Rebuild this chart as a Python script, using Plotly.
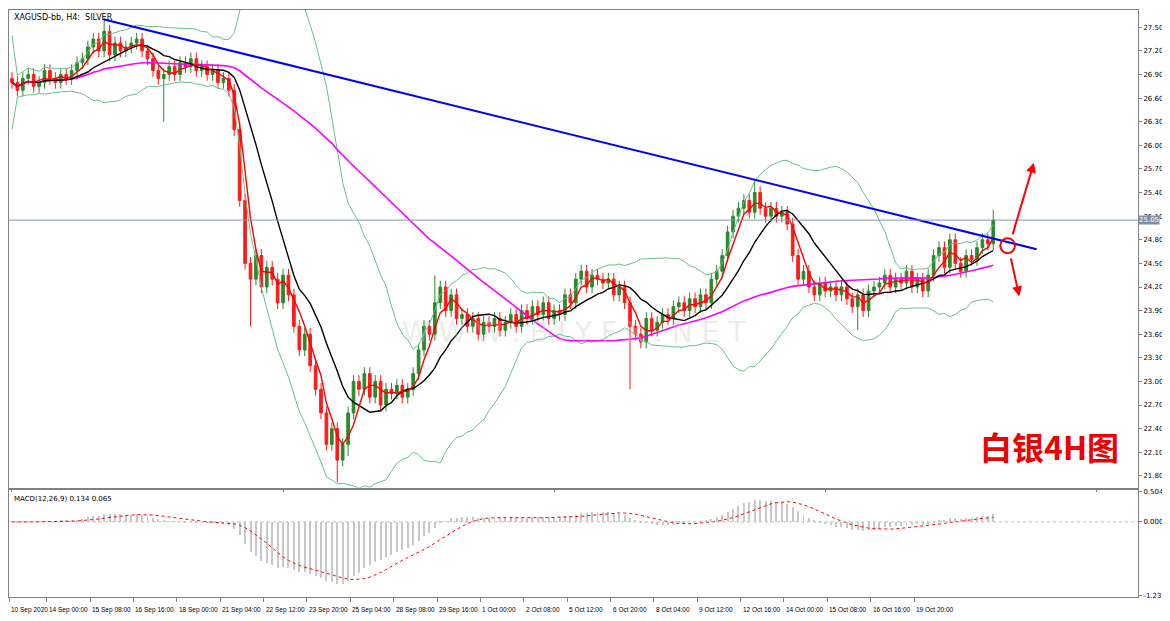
import numpy as np
import pandas as pd
import plotly.graph_objects as go
from plotly.subplots import make_subplots

closes = [26.80,26.70,26.85,26.90,26.75,26.80,26.95,26.85,26.80,26.90,
26.85,26.95,27.05,27.10,27.25,27.35,27.20,27.45,27.15,27.30,
27.20,27.25,27.30,27.35,27.20,27.10,26.95,26.85,26.90,27.00,
26.90,27.05,27.00,27.10,26.95,27.00,26.90,26.95,26.80,26.85,
26.70,26.20,25.30,24.50,24.30,24.60,24.20,24.45,24.30,24.00,
24.35,24.10,23.70,23.40,23.60,23.20,22.90,22.60,22.20,22.40,
22.00,22.20,22.60,23.00,22.90,23.10,22.80,23.00,22.70,22.90,
22.85,22.95,22.80,22.90,23.10,23.40,23.70,23.60,24.00,24.20,
23.90,24.10,23.80,23.85,23.70,23.80,23.60,23.75,23.70,23.80,
23.65,23.75,23.85,23.70,23.90,23.80,23.95,23.85,24.00,23.80,
23.90,23.85,24.10,24.00,24.30,24.40,24.20,24.35,24.30,24.25,
24.30,24.10,24.20,24.00,23.70,23.60,23.50,23.80,23.65,23.75,
23.85,23.80,23.95,24.00,23.90,24.05,23.95,24.10,24.00,24.30,
24.40,24.60,24.90,25.10,25.20,25.30,25.15,25.40,25.20,25.10,
25.20,25.10,25.15,25.00,24.60,24.30,24.40,24.20,24.10,24.25,
24.15,24.20,24.10,24.20,24.05,23.95,24.10,23.90,24.15,24.20,
24.25,24.35,24.20,24.30,24.25,24.40,24.20,24.30,24.15,24.35,
24.60,24.70,24.45,24.80,24.50,24.40,24.60,24.55,24.70,24.80,24.75,25.05]
first_open = 26.85
extreme_highs = {17: 27.62, 137: 25.55, 181: 25.18, 78: 24.35}
extreme_lows = {28: 26.30, 44: 23.70, 60: 21.72, 114: 22.90, 156: 23.65, 62: 22.05}
wick = 0.08

tick_idx = [-0.5] + [6.4 + 8*k for k in range(21)]
tick_text = ["10 Sep 2020","14 Sep 00:00","15 Sep 08:00","16 Sep 16:00","18 Sep 00:00",
"21 Sep 04:00","22 Sep 12:00","23 Sep 20:00","25 Sep 04:00","28 Sep 08:00","29 Sep 16:00",
"1 Oct 00:00","2 Oct 08:00","5 Oct 12:00","6 Oct 20:00","8 Oct 04:00","9 Oct 12:00",
"12 Oct 16:00","14 Oct 00:00","15 Oct 08:00","16 Oct 16:00","19 Oct 20:00"]
price_ticks = [21.80,22.10,22.40,22.70,23.00,23.30,23.60,23.90,24.20,24.50,24.80,25.10,25.40,25.70,26.00,26.30,26.60,26.90,27.20,27.50]
trend_x = [17, 189]
trend_y = [27.60, 24.68]
current_price = 25.05

n = len(closes)
x = np.arange(n)
c = np.array(closes)
o = np.concatenate([[first_open], c[:-1]])
h = np.maximum(o, c) + wick
l = np.minimum(o, c) - wick
for k, v in extreme_highs.items(): h[k] = v
for k, v in extreme_lows.items(): l[k] = v

s = pd.Series(c)
ma_fast = s.rolling(4, min_periods=1).mean()
ma_mid = s.rolling(11, min_periods=1).mean()
ma_slow = s.rolling(60, min_periods=1).mean()
bb_m = s.rolling(20, min_periods=1).mean()
bb_sd = s.rolling(20, min_periods=2).std().fillna(0.3)
bb_u = bb_m + 2*bb_sd
bb_l = bb_m - 2*bb_sd
macd = s.ewm(span=12, adjust=False).mean() - s.ewm(span=26, adjust=False).mean()
sig = macd.rolling(9, min_periods=1).mean()

fig = make_subplots(rows=2, cols=1, shared_xaxes=True, vertical_spacing=0.004,
                    row_heights=[0.817, 0.183])
fig.add_trace(go.Scatter(x=x, y=bb_u, mode="lines", line=dict(color="#66c08a", width=1)), 1, 1)
fig.add_trace(go.Scatter(x=x, y=bb_l, mode="lines", line=dict(color="#66c08a", width=1)), 1, 1)
fig.add_trace(go.Scatter(x=x, y=ma_slow, mode="lines", line=dict(color="#ff00ff", width=1.6)), 1, 1)
fig.add_trace(go.Candlestick(x=x, open=o, high=h, low=l, close=c,
    increasing=dict(line=dict(color="#2a8a2a", width=1), fillcolor="#2a8a2a"),
    decreasing=dict(line=dict(color="#ff1a1a", width=1), fillcolor="#ff1a1a"),
    whiskerwidth=0), 1, 1)
fig.add_trace(go.Scatter(x=x, y=ma_mid, mode="lines", line=dict(color="#000000", width=1.4)), 1, 1)
fig.add_trace(go.Scatter(x=x, y=ma_fast, mode="lines", line=dict(color="#ff0000", width=1.4)), 1, 1)
fig.add_trace(go.Scatter(x=trend_x, y=trend_y, mode="lines", line=dict(color="#0000ff", width=2)), 1, 1)
fig.add_trace(go.Bar(x=x, y=macd, marker=dict(color="#c8c8c8", line=dict(width=0)), width=0.18), 2, 1)
fig.add_trace(go.Scatter(x=x, y=sig, mode="lines", line=dict(color="#ff0000", width=1, dash="dot")), 2, 1)

fig.add_hline(y=current_price, line=dict(color="#8899aa", width=1), row=1, col=1)
fig.add_hline(y=0, line=dict(color="#c0c0c0", width=1, dash="dot"), row=2, col=1)

fig.add_shape(type="circle", xref="x", yref="y", x0=182.3, x1=185.0, y0=24.63, y1=24.82,
              line=dict(color="#ff0000", width=2))
for (ax_, ay_, tx, ty) in [(184.5, 24.85, 188.5, 25.78), (184.2, 24.58, 185.8, 24.08)]:
    fig.add_annotation(x=tx, y=ty, ax=ax_, ay=ay_, xref="x", yref="y", axref="x", ayref="y",
                       showarrow=True, arrowhead=2, arrowsize=1, arrowwidth=2, arrowcolor="#ff0000", text="")

for ti, tt in zip(tick_idx, tick_text):
    fig.add_annotation(x=ti, xref="x2", yref="paper", y=-0.012, xanchor="left", yanchor="top",
                       text=tt, showarrow=False, font=dict(size=6.5, color="#000", family="Liberation Sans"))

fig.add_annotation(xref="paper", yref="paper", x=0.003, y=0.998, xanchor="left", yanchor="top",
                   text="XAGUSD-bb, H4:  SILVER", showarrow=False, font=dict(size=8, color="#000", family="DejaVu Sans"))
fig.add_annotation(xref="paper", yref="paper", x=0.003, y=0.178, xanchor="left", yanchor="top",
                   text="MACD(12,26,9) 0.134 0.065", showarrow=False, font=dict(size=7, color="#000", family="DejaVu Sans"))
fig.add_annotation(xref="paper", yref="paper", x=0.985, y=0.215, xanchor="right", yanchor="bottom",
                   text="<b>白银4H图</b>", showarrow=False, font=dict(size=32, color="#ee0000", family="Noto Sans CJK SC"))
fig.add_annotation(xref="paper", yref="paper", x=0.5, y=0.45, text="W W W . B I Y F X . N E T", showarrow=False,
                   font=dict(size=28, color="rgba(200,200,200,0.35)", family="DejaVu Sans"))
fig.add_annotation(xref="paper", yref="y", x=1.0, y=current_price, xanchor="left", text="25.05", showarrow=False,
                   bgcolor="#7f8fa0", font=dict(size=7, color="white", family="DejaVu Sans"), borderpad=0)

ax_style = dict(showgrid=False, zeroline=False, linecolor="#808080", mirror=True, showline=True,
                ticks="outside", ticklen=3, tickcolor="#808080", tickfont=dict(size=7, family="DejaVu Sans", color="#000"))
fig.update_xaxes(range=[-0.55, 207.7], rangeslider_visible=False, **ax_style)
fig.update_xaxes(tickvals=tick_idx, ticktext=[""] * len(tick_idx), ticklen=4, row=2, col=1)
fig.update_yaxes(side="right", **ax_style)
fig.update_yaxes(range=[21.65, 27.72], tickvals=price_ticks, ticktext=[f"{v:.2f}" for v in price_ticks], row=1, col=1)
fig.update_yaxes(range=[-1.25, 0.53], tickvals=[-1.233, 0.0, 0.504], ticktext=["-1.233", "0.000", "0.504"], row=2, col=1)
fig.update_layout(width=1162, height=612, margin=dict(l=0, r=32, t=0, b=23), showlegend=False,
                  paper_bgcolor="white", plot_bgcolor="white", bargap=0)
fig.write_html("out.html")
